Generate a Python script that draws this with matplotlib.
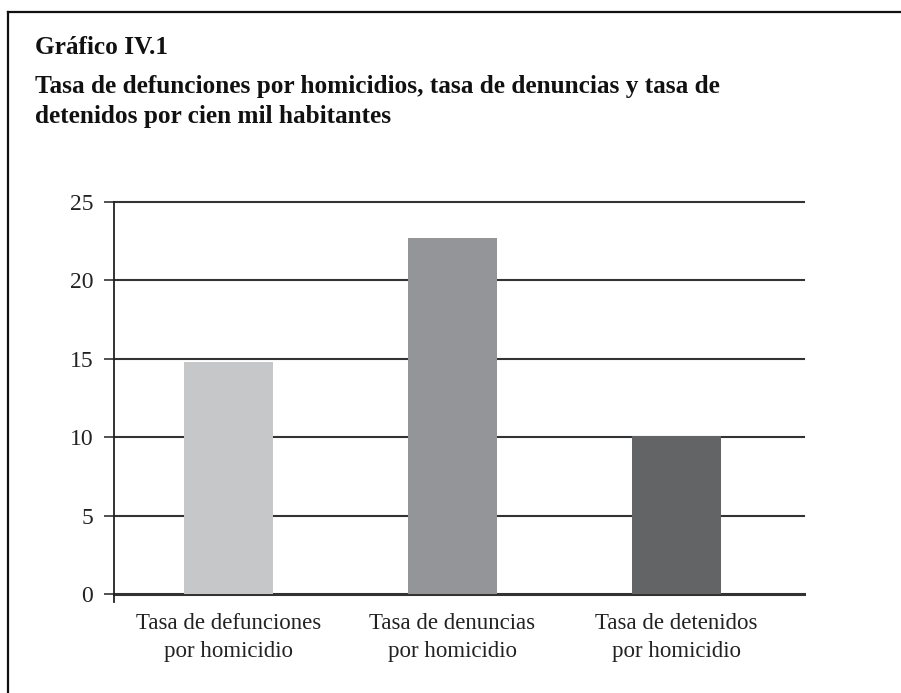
import matplotlib
matplotlib.use("Agg")
import matplotlib.pyplot as plt
from matplotlib.lines import Line2D

categories = ["Tasa de defunciones\npor homicidio",
              "Tasa de denuncias\npor homicidio",
              "Tasa de detenidos\npor homicidio"]
values = [14.8, 22.7, 10.08]
yticks = [0, 5, 10, 15, 20, 25]
title_lines = ["Gráfico IV.1",
               "Tasa de defunciones por homicidios, tasa de denuncias y tasa de",
               "detenidos por cien mil habitantes"]
colors = ["#c6c7c9", "#939598", "#636466"]

W, H = 901, 693
plt.rcParams['font.family'] = ['Liberation Serif', 'DejaVu Serif']

fig = plt.figure(figsize=(W / 100, H / 100), dpi=100)

def fx(px):
    return px / W

def fy(py):
    return 1 - py / H

# outer frame (top and left visible)
fig.add_artist(Line2D([fx(8), fx(8)], [fy(12), 0], color="#111111", lw=1.6,
                      transform=fig.transFigure))
fig.add_artist(Line2D([fx(8), 1], [fy(12), fy(12)], color="#111111", lw=1.6,
                      transform=fig.transFigure))

ax = fig.add_axes([fx(114), fy(602), fx(804) - fx(114), fy(202) - fy(602)])
x = list(range(len(categories)))
ax.bar(x, values, width=0.397, color=colors, zorder=3)
ax.set_xlim(-0.51, 2.569)
ax.set_ylim(-0.5, 25)
ax.set_yticks(yticks)
ax.set_yticklabels([str(t) for t in yticks], fontsize=17, color="#222222")
ax.tick_params(axis='y', direction='out', length=7, width=1.2, color="#333333", pad=8)
for t in yticks:
    ax.axhline(t, color="#333333", lw=1.5 if t else 2.2, zorder=2, clip_on=False)
ax.set_xticks(x)
ax.set_xticklabels(categories, fontsize=16.5, color="#222222", linespacing=1.42)
ax.tick_params(axis='x', length=0, pad=8)
for s in ['top', 'right', 'bottom']:
    ax.spines[s].set_visible(False)
ax.spines['left'].set_color("#222222")
ax.spines['left'].set_linewidth(1.3)

ys = [48, 87, 117]
for line, y in zip(title_lines, ys):
    fig.text(fx(35), fy(y), line, fontsize=18.2, fontweight='bold', color="#111111",
             va='center', ha='left')

fig.savefig("out.png", dpi=100)
